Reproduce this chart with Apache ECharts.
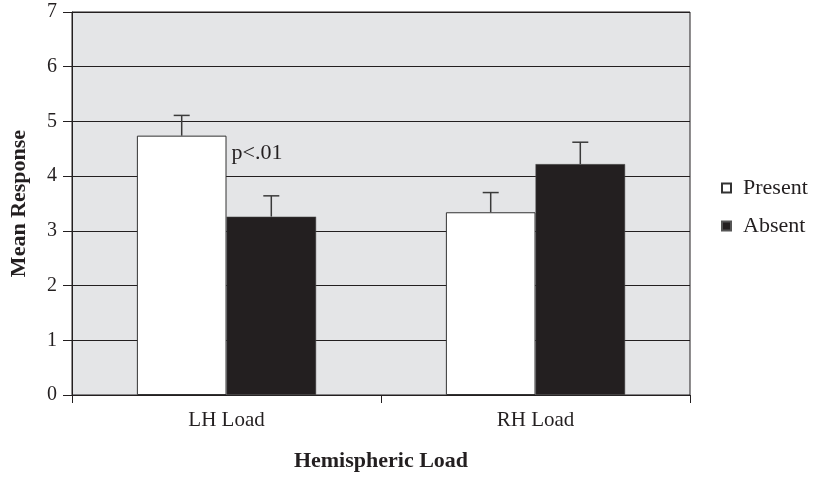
<!DOCTYPE html>
<html><head><meta charset="utf-8">
<script src="https://cdn.jsdelivr.net/npm/echarts@6/dist/echarts.min.js"></script>
<style>html,body{margin:0;padding:0;background:#fff}#c{width:816px;height:478px}</style>
</head><body><div id="c"></div>
<script>
const categories = ['LH Load', 'RH Load'];
const presentValues = [4.74, 3.34];
const presentErrTop = [5.11, 3.70];
const absentValues = [3.26, 4.22];
const absentErrTop = [3.64, 4.62];
const yTicks = [0, 1, 2, 3, 4, 5, 6, 7];
const seriesNames = ['Present', 'Absent'];

const FONT = '"Liberation Serif", "DejaVu Serif", serif';
const INK = '#231f20';
const chart = echarts.init(document.getElementById('c'));

function errSeries(tops, vals, sideIdx) {
  return {
    type: 'custom',
    silent: true,
    z: 1,
    data: tops.map((t, i) => [i, vals[i], t]),
    renderItem: function (params, api) {
      const band = api.size([1, 0])[0];
      const barW = band * 0.29;
      const base = api.coord([api.value(0), api.value(1)]);
      const top = api.coord([api.value(0), api.value(2)]);
      const x = base[0] + (sideIdx === 0 ? -barW / 2 : barW / 2);
      const cap = 8;
      const st = { stroke: '#3a3a3a', lineWidth: 1.5 };
      return {
        type: 'group',
        children: [
          { type: 'line', shape: { x1: x, y1: base[1], x2: x, y2: top[1] }, style: st },
          { type: 'line', shape: { x1: x - cap, y1: top[1], x2: x + cap, y2: top[1] }, style: st }
        ]
      };
    }
  };
}

chart.setOption({
  animation: false,
  textStyle: { fontFamily: FONT },
  grid: {
    left: 70, right: 126, top: 12, bottom: 83,
    show: true, backgroundColor: '#e4e5e7', borderColor: INK, borderWidth: 1
  },
  legend: {
    orient: 'vertical', left: 716, top: 172, itemGap: 16,
    itemWidth: 9, itemHeight: 9, icon: 'rect',
    textStyle: { fontFamily: FONT, fontSize: 22, color: INK, padding: [0, 0, 0, 7] },
    data: seriesNames
  },
  xAxis: {
    type: 'category', data: categories,
    name: 'Hemispheric Load', nameLocation: 'middle', nameGap: 55,
    nameTextStyle: { fontFamily: FONT, fontSize: 22, fontWeight: 'bold', color: INK },
    axisLine: { lineStyle: { color: INK, width: 1 } },
    axisTick: { show: true, length: 8, alignWithLabel: false, lineStyle: { color: INK } },
    axisLabel: { fontFamily: FONT, fontSize: 21, color: INK, margin: 15 }
  },
  yAxis: {
    type: 'value', min: 0, max: 7, interval: 1,
    name: 'Mean Response', nameLocation: 'middle', nameGap: 42,
    nameTextStyle: { fontFamily: FONT, fontSize: 22, fontWeight: 'bold', color: INK },
    axisLine: { show: true, lineStyle: { color: INK, width: 1 } },
    axisTick: { show: true, length: 9, lineStyle: { color: INK } },
    axisLabel: { fontFamily: FONT, fontSize: 20, color: INK, margin: 15,
      formatter: v => yTicks.includes(v) ? String(v) : '' },
    splitLine: { show: true, lineStyle: { color: INK, width: 1 } }
  },
  series: [
    {
      name: seriesNames[0], type: 'bar', data: presentValues, z: 2,
      barGap: '0%', barCategoryGap: '42%',
      itemStyle: { color: '#ffffff', borderColor: '#333', borderWidth: 1 },
      label: {
        show: true, position: ['100%', 7], distance: 0,
        formatter: p => p.dataIndex === 0 ? 'p<.01' : '',
        fontFamily: FONT, fontSize: 22, color: INK, offset: [5, 0]
      }
    },
    {
      name: seriesNames[1], type: 'bar', data: absentValues, z: 2,
      barGap: '0%', barCategoryGap: '42%',
      itemStyle: { color: INK, borderColor: '#555', borderWidth: 0.5 }
    },
    errSeries(presentErrTop, presentValues, 0),
    errSeries(absentErrTop, absentValues, 1)
  ]
});
</script></body></html>
